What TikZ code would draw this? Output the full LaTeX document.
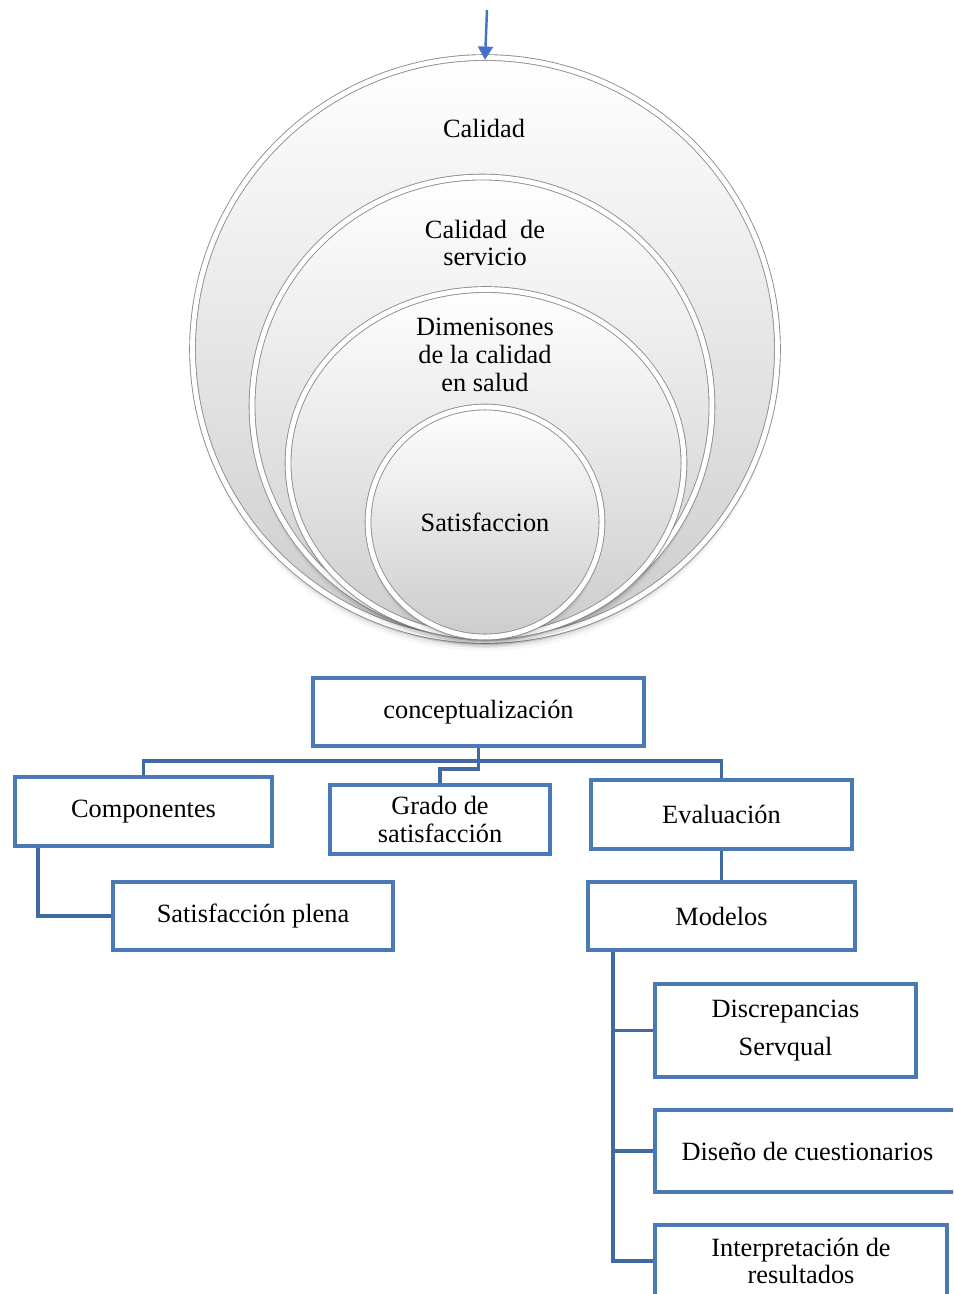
\documentclass[tikz,border=0pt]{standalone}
\usepackage{fontspec}
\setmainfont{Liberation Serif}
\usetikzlibrary{arrows.meta,shapes.geometric,shadows}
\definecolor{boxblue}{RGB}{74,122,180}
\definecolor{linkblue}{RGB}{64,106,162}
\definecolor{arrowblue}{RGB}{68,114,196}
\begin{document}
\begin{tikzpicture}[x=0.02cm,y=-0.02cm,
  txt/.style={font=\fontsize{15}{15.8}\selectfont, align=center, inner sep=0pt},
  bubble/.style={ellipse, inner sep=0pt, draw=black!45, line width=0.5pt,
    double=white, double distance=2.8pt,
    top color=white, middle color=black!2, bottom color=black!20,
    drop shadow={shadow xshift=0pt, shadow yshift=-1.2pt, opacity=0.22, fill=black},
    drop shadow={shadow xshift=0pt, shadow yshift=-2.6pt, opacity=0.12, fill=black},
    drop shadow={shadow xshift=0pt, shadow yshift=-4.2pt, opacity=0.06, fill=black},
    drop shadow={shadow xshift=0pt, shadow yshift=-6pt, opacity=0.03, fill=black}},
  tbox/.style={draw=boxblue, line width=2.2pt, fill=white,
    font=\fontsize{15}{15.8}\selectfont, align=center, inner sep=2pt},
  conn/.style={draw=linkblue, line width=2.2pt}]
\useasboundingbox (0,0) rectangle (953,1294);
\clip (0,0) rectangle (953,1294);
\fill[white] (0,0) rectangle (953,1294);

% nested target of concepts
\node[bubble, minimum width=11.70cm, minimum height=11.66cm] (c1) at (485,349) {};
\node[bubble, minimum width=9.20cm,  minimum height=9.16cm]  (c2) at (482,406) {};
\node[bubble, minimum width=7.92cm,  minimum height=6.94cm]  (c3) at (486,463) {};
\node[bubble, minimum width=4.68cm,  minimum height=4.60cm]  (c4) at (485,522) {};

\node[txt] (t1) at (484,128) {Calidad};
\node[txt] (t2) at (485,243) {Calidad~ de\\servicio};
\node[txt] (t3) at (485,355) {Dimenisones\\de la calidad\\en salud};
\node[txt] (t4) at (485,522) {Satisfaccion};

\coordinate (in) at (487,10);
\draw[arrowblue, line width=1.4pt, -{Triangle[length=7.5pt,width=8.5pt]}] (in) -- ([yshift=-1.5pt]c1.north);

% concept map
\node[tbox, minimum width=6.62cm, minimum height=1.36cm] (concept) at (478.5,712) {conceptualización};
\node[tbox, minimum width=5.14cm, minimum height=1.38cm] (comp) at (143.5,811.5) {Componentes};
\node[tbox, minimum width=4.40cm, minimum height=1.38cm] (grado) at (440,819.5) {Grado de\\satisfacción};
\node[tbox, minimum width=5.22cm, minimum height=1.38cm] (eval) at (721.5,814.5) {Evaluación};
\node[tbox, minimum width=5.60cm, minimum height=1.36cm] (plena) at (253,916) {Satisfacción plena};
\node[tbox, minimum width=5.34cm, minimum height=1.36cm] (model) at (721.5,916) {Modelos};
\node[tbox, minimum width=5.22cm, minimum height=1.86cm] (disc) at (785.5,1030.5) {Discrepancias\\[5.5pt]Servqual};
\node[tbox, minimum width=6.10cm, minimum height=1.64cm] (cuest) at (807.5,1151) {Diseño de cuestionarios};
\node[tbox, minimum width=5.84cm, minimum height=1.44cm] (interp) at (801,1261) {Interpretación de\\resultados};

\coordinate (hub) at (478.5,761);
\draw[conn] (concept.south) -- (hub);
\draw[conn] (hub) -| (comp.north);
\draw[conn] (hub) -| (eval.north);
\draw[conn] (hub) -- ++(0,8) -| (grado.north);
\draw[conn] ([xshift=0.5cm]comp.south west) |- (plena.west);
\draw[conn] (eval.south) -- (model.north);
\draw[conn] ([xshift=0.54cm]model.south west) |- (disc.west);
\draw[conn] ([xshift=0.54cm]model.south west) |- (cuest.west);
\draw[conn] ([xshift=0.54cm]model.south west) |- (interp.west);
\end{tikzpicture}
\end{document}
